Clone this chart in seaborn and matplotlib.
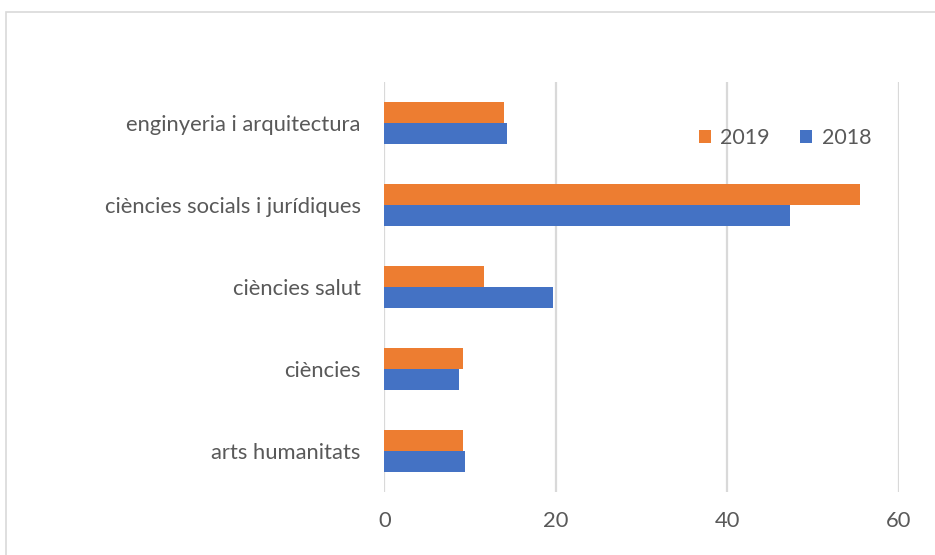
import matplotlib
matplotlib.use("Agg")
import matplotlib.pyplot as plt
from matplotlib.patches import Rectangle
import seaborn as sns
import pandas as pd

categories = [
    "enginyeria i arquitectura",
    "ciències socials i jurídiques",
    "ciències salut",
    "ciències",
    "arts humanitats",
]
values_2019 = [13.9, 55.4, 11.6, 9.2, 9.2]
values_2018 = [14.3, 47.3, 19.7, 8.7, 9.4]
years = ["2019", "2018"]
x_ticks = [0, 20, 40, 60]

df = pd.DataFrame({
    "area": categories * 2,
    "valor": values_2019 + values_2018,
    "any": ["2019"] * len(categories) + ["2018"] * len(categories),
})

sns.set_theme(style="white")
plt.rcParams["font.family"] = ["Lato", "DejaVu Sans"]

text_grey = "#595959"
grid_grey = "#D9D9D9"
palette = {"2019": "#ED7D31", "2018": "#4472C4"}

fig = plt.figure(figsize=(9.35, 5.55), dpi=100)
ax = fig.add_axes([0.4112, 0.1135, 0.5503, 0.7388])

sns.barplot(data=df, y="area", x="valor", hue="any", hue_order=years,
            order=categories, palette=palette, width=0.52, gap=0,
            saturation=1, orient="h", ax=ax, legend=False, linewidth=0)

ax.set_xlim(0, 60)
ax.set_xticks(x_ticks)
ax.set_xticklabels([str(t) for t in x_ticks])
ax.set_ylim(len(categories) - 0.5, -0.5)
ax.set_xlabel("")
ax.set_ylabel("")
ax.grid(axis="x", color=grid_grey, linewidth=1.6)
ax.set_axisbelow(True)
for s in ax.spines.values():
    s.set_visible(False)
ax.tick_params(axis="x", length=0, pad=14, labelsize=15.8, labelcolor=text_grey)
ax.tick_params(axis="y", length=0, pad=17, labelsize=15.8, labelcolor=text_grey)

handles = [Rectangle((0, 0), 1, 1, facecolor=palette[y], edgecolor="none") for y in years]
fig.legend(handles, years, loc="center", bbox_to_anchor=(785 / 935, 1 - 138 / 555),
           ncol=2, frameon=False, fontsize=15.5, labelcolor=text_grey,
           handlelength=0.55, handleheight=0.55, handletextpad=0.45, columnspacing=1.4)

# light chart-area border
fig.add_artist(Rectangle((5.5 / 935, -0.05), 1.2, 1 - 11.5 / 555 + 0.05,
                         transform=fig.transFigure, fill=False,
                         edgecolor=grid_grey, linewidth=1.2, clip_on=False))

fig.savefig("out.png", dpi=100, facecolor="white")
